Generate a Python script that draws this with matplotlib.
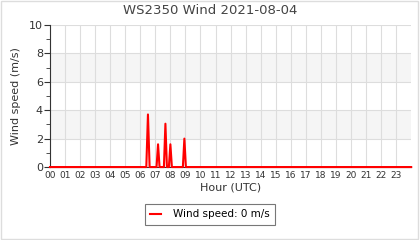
import matplotlib
matplotlib.use("Agg")
import matplotlib.pyplot as plt
from matplotlib.ticker import MultipleLocator

title = "WS2350 Wind 2021-08-04"
hours = [0.0, 6.4, 6.51, 6.62, 7.08, 7.18, 7.28, 7.57, 7.67, 7.77, 7.9, 8.0, 8.1, 8.83, 8.93, 9.03, 24.0]
speed = [0.0, 0.0, 3.7, 0.0, 0.0, 1.6, 0.0, 0.0, 3.05, 0.0, 0.0, 1.6, 0.0, 0.0, 2.0, 0.0, 0.0]
tick_labels = [f"{h:02d}" for h in range(24)]
legend_label = "Wind speed: 0 m/s"

fig = plt.figure(figsize=(4.2, 2.4), dpi=100)
fig.patch.set_facecolor("white")
border = plt.Rectangle((0.002, 0.004), 0.993, 0.992, transform=fig.transFigure,
                       fill=False, edgecolor="#dddddd", linewidth=1.0)
fig.patches.append(border)

ax = fig.add_axes([0.119, 0.304, 0.86, 0.592])
ax.set_xlim(0, 24)
ax.set_ylim(0, 10)
for lo, hi in [(2, 4), (6, 8)]:
    ax.axhspan(lo, hi, color="#f5f5f5", zorder=0, linewidth=0)
ax.set_xticks(range(24))
ax.set_xticklabels(tick_labels)
ax.yaxis.set_major_locator(MultipleLocator(2))
ax.yaxis.set_minor_locator(MultipleLocator(1))
ax.grid(True, which="major", color="#dddddd", linewidth=0.8, zorder=1)
ax.set_axisbelow(True)
for s in ["top", "right"]:
    ax.spines[s].set_visible(False)
ax.spines["left"].set_color("#333333")
ax.spines["bottom"].set_color("#333333")
ax.spines["left"].set_linewidth(0.8)
ax.tick_params(axis="x", length=0, labelsize=6.5, colors="#333333", pad=3)
ax.tick_params(axis="y", which="major", length=4, labelsize=8, colors="#333333", pad=1)
ax.tick_params(axis="y", which="minor", length=3, colors="#333333")

line, = ax.plot(hours, speed, color="#ff0000", linewidth=1.5, zorder=3, clip_on=False)
ax.set_xlabel("Hour (UTC)", fontsize=8, color="#333333", labelpad=2)
ax.set_ylabel("Wind speed (m/s)", fontsize=8, color="#333333", labelpad=6)
fig.suptitle(title, x=0.5, y=0.985, fontsize=9.5, color="#444444", va="top")

leg = fig.legend([line], [legend_label], loc="center", bbox_to_anchor=(0.5, 0.107),
                 fontsize=7.5, frameon=True, fancybox=False, edgecolor="#555555",
                 handlelength=1.0, handletextpad=1.2, borderpad=0.5)
leg.get_frame().set_linewidth(0.8)

fig.savefig("out.png", dpi=100)
